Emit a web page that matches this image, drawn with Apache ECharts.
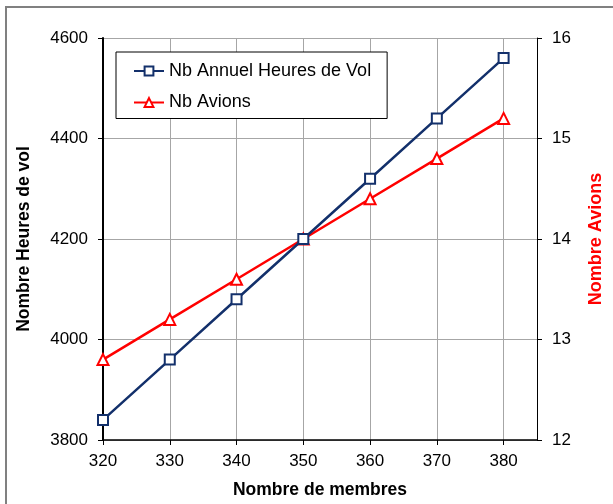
<!DOCTYPE html>
<html>
<head>
<meta charset="utf-8">
<script src="https://cdn.jsdelivr.net/npm/echarts@6/dist/echarts.min.js"></script>
<style>
html,body{margin:0;padding:0;background:#fff;overflow:hidden;}
#frame{position:absolute;left:5px;top:6px;width:700px;height:600px;border-left:2px solid #808080;border-top:2px solid #808080;box-sizing:border-box;}
#chart{position:absolute;left:0;top:0;width:613px;height:504px;}
</style>
</head>
<body>
<div id="frame"></div>
<div id="chart"></div>
<script>
var membres = [320, 330, 340, 350, 360, 370, 380];
var heuresVol = [3840, 3960, 4080, 4200, 4320, 4440, 4560];
var avions = [12.8, 13.2, 13.6, 14.0, 14.4, 14.8, 15.2];
var seriesNames = ['Nb Annuel Heures de Vol', 'Nb Avions'];
var xName = 'Nombre de membres';
var yLeftName = 'Nombre Heures de vol';
var yRightName = 'Nombre Avions';

var chart = echarts.init(document.getElementById('chart'), null, {renderer: 'canvas'});
var font = 'Liberation Sans, Arial, sans-serif';
var option = {
  animation: false,
  backgroundColor: 'transparent',
  grid: {left: 103, right: 66, top: 38, bottom: 59, containLabel: false},
  legend: {
    orient: 'vertical',
    left: 116, top: 52,
    padding: [10, 16, 7, 17],
    backgroundColor: '#fff',
    borderColor: '#000',
    borderWidth: 1,
    itemGap: 13.5,
    itemWidth: 30,
    itemHeight: 11,
    textStyle: {fontFamily: font, fontSize: 18, color: '#000'},
    data: seriesNames
  },
  xAxis: {
    type: 'value',
    min: 320, max: 385, interval: 10,
    name: xName, nameLocation: 'middle', nameGap: 41,
    nameTextStyle: {fontFamily: font, fontSize: 17.5, fontWeight: 'bold', color: '#000'},
    axisLine: {show: true, lineStyle: {color: '#000', width: 1.5}},
    axisTick: {show: true, length: 5, lineStyle: {color: '#000'}},
    axisLabel: {fontFamily: font, fontSize: 17, color: '#000', margin: 13, showMaxLabel: false,
      formatter: function (v) { return membres.indexOf(v) >= 0 ? String(v) : ''; }},
    splitLine: {show: true, lineStyle: {color: '#a6a6a6', width: 1}}
  },
  yAxis: [{
    type: 'value',
    min: 3800, max: 4600, interval: 200,
    position: 'left',
    name: yLeftName, nameLocation: 'middle', nameGap: 70, nameRotate: 90,
    nameTextStyle: {fontFamily: font, fontSize: 17.5, fontWeight: 'bold', color: '#000'},
    axisLine: {show: true, lineStyle: {color: '#000', width: 2}},
    axisTick: {show: true, length: 5, lineStyle: {color: '#000'}},
    axisLabel: {fontFamily: font, fontSize: 17, color: '#000', margin: 15,
      formatter: function (v) { return String(v); }},
    splitLine: {show: true, lineStyle: {color: '#a6a6a6', width: 1}}
  }, {
    type: 'value',
    min: 12, max: 16, interval: 1,
    position: 'right',
    name: yRightName, nameLocation: 'middle', nameGap: 50, nameRotate: 90,
    nameTextStyle: {fontFamily: font, fontSize: 18, fontWeight: 'bold', color: '#ff0000'},
    axisLine: {show: true, lineStyle: {color: '#000', width: 1}},
    axisTick: {show: true, length: 5, lineStyle: {color: '#000'}},
    axisLabel: {fontFamily: font, fontSize: 17, color: '#000', margin: 15},
    splitLine: {show: false}
  }],
  series: [{
    name: seriesNames[0],
    type: 'line',
    yAxisIndex: 0,
    data: membres.map(function (m, i) { return [m, heuresVol[i]]; }),
    symbol: 'rect', symbolSize: 10,
    itemStyle: {color: '#fff', borderColor: '#13306b', borderWidth: 2},
    lineStyle: {color: '#13306b', width: 2.5},
    z: 3
  }, {
    name: seriesNames[1],
    type: 'line',
    yAxisIndex: 1,
    data: membres.map(function (m, i) { return [m, avions[i]]; }),
    symbol: 'triangle', symbolSize: 11,
    itemStyle: {color: '#fff', borderColor: '#ff0000', borderWidth: 2},
    lineStyle: {color: '#ff0000', width: 2.5},
    z: 2
  }]
};
chart.setOption(option);
</script>
</body>
</html>
